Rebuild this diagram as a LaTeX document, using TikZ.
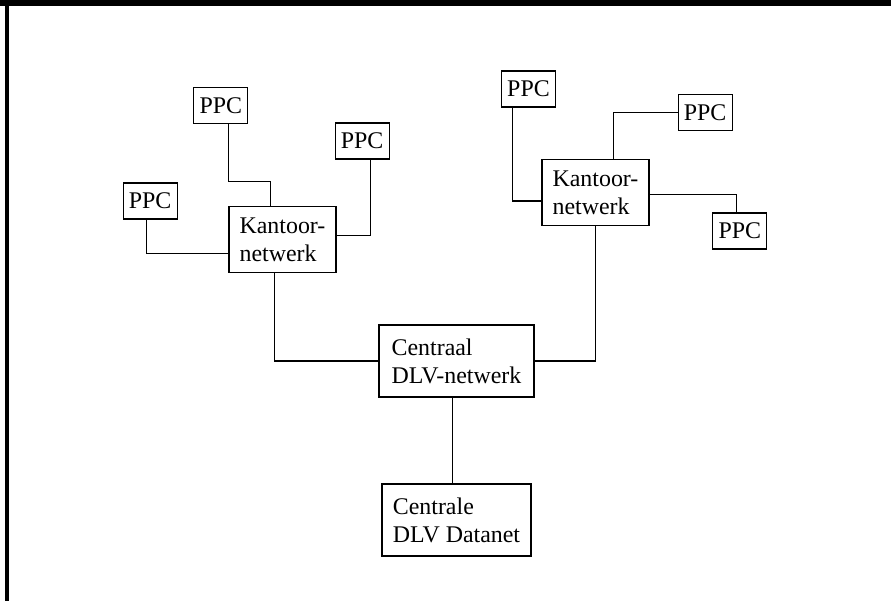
\documentclass[tikz,border=0pt]{standalone}
\usepackage{fontspec}
\setmainfont{Liberation Serif}
\usepackage{tikz}
\usetikzlibrary{shapes.geometric, arrows}
\tikzstyle{ppc} = [rectangle, minimum width=1.35cm, minimum height=0.9cm, inner sep=0pt, text centered, draw=black, line width=0.8pt]
\tikzstyle{net} = [rectangle, minimum width=2.675cm, minimum height=1.65cm, inner sep=0pt, align=left, draw=black, line width=0.8pt]
\tikzstyle{hub} = [rectangle, minimum width=3.875cm, minimum height=1.8cm, inner sep=0pt, align=left, draw=black, line width=0.8pt]
\tikzstyle{link} = [line width=0.8pt]

\begin{document}
\begin{tikzpicture}[node distance=2cm, font=\fontsize{17}{20}\selectfont]
	\useasboundingbox (-11.4125,-6) rectangle (10.8625,9.025);
	\fill [black] (-11.4125,8.875) rectangle (10.8625,9.025);
	\fill [black] (-11.2875,-6) rectangle (-11.1875,9.025);
	\node (centraal) [hub] at (0,0) {Centraal\\DLV-netwerk};
	\node (centrale) [hub, below of=centraal, yshift=-1.975cm, minimum width=3.725cm] {Centrale\\DLV Datanet};
	\node (kantL) [net, above of=centraal, xshift=-4.35cm, yshift=1.04cm] {Kantoor-\\netwerk};
	\node (kantR) [net, above of=centraal, xshift=3.475cm, yshift=2.21cm] {Kantoor-\\netwerk};
	\node (ppcA) [ppc, above of=kantL, xshift=-1.54cm, yshift=1.34cm] {PPC};
	\node (ppcB) [ppc, above of=kantL, xshift=1.99cm, yshift=0.46cm] {PPC};
	\node (ppcC) [ppc, left of=kantL, xshift=-1.31cm, yshift=0.96cm] {PPC};
	\node (ppcD) [ppc, above of=kantR, xshift=-1.675cm, yshift=0.59cm] {PPC};
	\node (ppcE) [ppc, above of=kantR, xshift=2.74cm] {PPC};
	\node (ppcF) [ppc, right of=kantR, xshift=1.61cm, yshift=-0.96cm] {PPC};
	\draw [link] ([xshift=0.2cm]ppcA.south) |- ([xshift=-0.31cm, yshift=0.6cm]kantL.north) -- ([xshift=-0.31cm]kantL.north);
	\draw [link] ([xshift=0.2cm]ppcB.south) |- ([yshift=0.09cm]kantL.east);
	\draw [link] ([xshift=-0.1cm]ppcC.south) |- ([yshift=-0.36cm]kantL.west);
	\draw [link] ([xshift=-0.19cm]kantL.south) |- (centraal.west);
	\draw [link] ([xshift=-0.39cm]ppcD.south) |- ([yshift=-0.21cm]kantR.west);
	\draw [link] ([xshift=0.44cm]kantR.north) |- (ppcE.west);
	\draw [link] ([yshift=-0.04cm]kantR.east) -| ([xshift=-0.08cm]ppcF.north);
	\draw [link] (kantR.south) |- (centraal.east);
	\draw [link] ([xshift=-0.09cm]centraal.south) -- ([xshift=-0.09cm]centrale.north);
\end{tikzpicture}
\end{document}
